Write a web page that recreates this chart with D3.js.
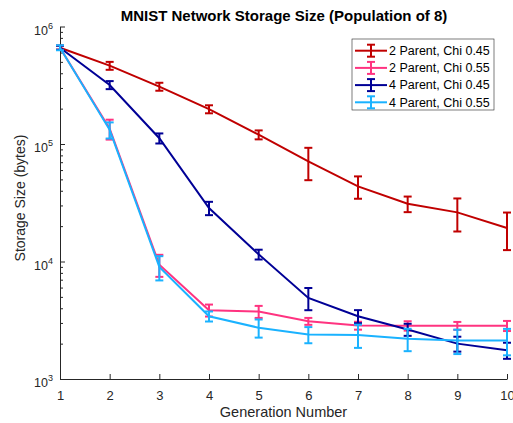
<!DOCTYPE html>
<html>
<head>
<meta charset="utf-8">
<script src="https://cdn.jsdelivr.net/npm/d3@7"></script>
<style>
  body { margin: 0; background: #fff; }
  svg { display: block; font-family: "Liberation Sans", Arial, sans-serif; }
</style>
</head>
<body>
<div id="chartdiv"></div>
<script>
// data (storage size in bytes, error = half width)
const generations = [1, 2, 3, 4, 5, 6, 7, 8, 9, 10];
const seriesNames = ["2 Parent, Chi 0.45", "2 Parent, Chi 0.55", "4 Parent, Chi 0.45", "4 Parent, Chi 0.55"];

const p2chi45 = [6.6e5, 4.64e5, 3.08e5, 1.98e5, 1.2e5, 7.1e4, 4.36e4, 3.1e4, 2.62e4, 1.93e4];
const p2chi45Err = [2.6e4, 3.6e4, 2.4e4, 1.55e4, 1.05e4, 2.18e4, 9.4e3, 4.7e3, 8.2e3, 6.8e3];
const p2chi55 = [6.6e5, 1.35e5, 9.4e3, 3.85e3, 3.75e3, 3.1e3, 2.85e3, 2.84e3, 2.84e3, 2.84e3];
const p2chi55Err = [2.6e4, 2.6e4, 2.0e3, 450, 440, 210, 220, 260, 220, 280];
const p4chi45 = [6.6e5, 3.18e5, 1.12e5, 2.85e4, 1.15e4, 4.9e3, 3.42e3, 2.64e3, 2.0e3, 1.76e3];
const p4chi45Err = [2.6e4, 2.5e4, 1.1e4, 3.7e3, 1.1e3, 1.05e3, 435, 310, 290, 275];
const p4chi55 = [6.6e5, 1.32e5, 9.0e3, 3.42e3, 2.73e3, 2.39e3, 2.37e3, 2.2e3, 2.13e3, 2.13e3];
const p4chi55Err = [3.2e4, 2.07e4, 2.1e3, 335, 480, 375, 530, 475, 500, 540];

const yMajorTicks = [1e3, 1e4, 1e5, 1e6];

const colors = ["#c00000", "#ff3380", "#000096", "#1ab2ff"];

const series = [
  { name: seriesNames[0], vals: p2chi45, errs: p2chi45Err },
  { name: seriesNames[1], vals: p2chi55, errs: p2chi55Err },
  { name: seriesNames[2], vals: p4chi45, errs: p4chi45Err },
  { name: seriesNames[3], vals: p4chi55, errs: p4chi55Err }
];

const W = 513, H = 423;
const axisColor = "#262626";

const svg = d3.select("#chartdiv").append("svg")
  .attr("width", W)
  .attr("height", H);

const x = d3.scaleLinear().domain([1, 10]).range([60, 507]);
const y = d3.scaleLog().domain([1e3, 1e6]).range([379, 26.5]);

// minor ticks on the log axis
const minorTicks = [];
for (let d = 1e3; d < 1e6; d *= 10) {
  for (let m = 2; m <= 9; m++) minorTicks.push(d * m);
}

svg.append("g")
  .attr("transform", "translate(" + x.range()[0] + ",0)")
  .call(d3.axisLeft(y).tickValues(minorTicks).tickSize(-3).tickSizeOuter(0).tickFormat(""))
  .call(g => g.select(".domain").remove())
  .selectAll("line").attr("stroke", axisColor);

// y axis
const yAxis = svg.append("g")
  .attr("class", "yaxis")
  .attr("transform", "translate(" + x.range()[0] + ",0)")
  .call(d3.axisLeft(y).tickValues(yMajorTicks).tickSize(-5).tickSizeOuter(0).tickPadding(7).tickFormat(""));
yAxis.select(".domain").attr("stroke", axisColor);
yAxis.selectAll("line").attr("stroke", axisColor);
yAxis.selectAll("text")
  .attr("dy", "7.5")
  .attr("fill", axisColor)
  .attr("font-size", "12.5px")
  .each(function (d) {
    const t = d3.select(this);
    t.append("tspan").text("10");
    t.append("tspan")
      .attr("dy", "-6")
      .attr("font-size", "9px")
      .text(Math.round(Math.log10(d)));
  });

// x axis
const xAxis = svg.append("g")
  .attr("class", "xaxis")
  .attr("transform", "translate(0," + y.range()[0] + ")")
  .call(d3.axisBottom(x).tickValues(generations).tickSize(-5).tickSizeOuter(0).tickPadding(11.5).tickFormat(d3.format("d")));
xAxis.select(".domain").attr("stroke", axisColor);
xAxis.selectAll("line").attr("stroke", axisColor);
xAxis.selectAll("text")
  .attr("fill", axisColor)
  .attr("font-size", "13px");

// lines + error bars
const line = d3.line()
  .x((d, i) => x(generations[i]))
  .y(d => y(d));

const capW = 4;

series.forEach((s, si) => {
  const g = svg.append("g").attr("stroke", colors[si]).attr("stroke-width", 2).attr("fill", "none");

  g.append("path").attr("d", line(s.vals));

  s.vals.forEach((v, i) => {
    const cx = x(generations[i]);
    const y0 = y(v - s.errs[i]);
    const y1 = y(v + s.errs[i]);
    g.append("line").attr("x1", cx).attr("x2", cx).attr("y1", y0).attr("y2", y1);
    g.append("line").attr("x1", cx - capW).attr("x2", cx + capW).attr("y1", y0).attr("y2", y0);
    g.append("line").attr("x1", cx - capW).attr("x2", cx + capW).attr("y1", y1).attr("y2", y1);
  });
});

// title and labels
svg.append("text")
  .attr("x", 284)
  .attr("y", 20.5)
  .attr("text-anchor", "middle")
  .attr("font-weight", "bold")
  .attr("font-size", "15px")
  .attr("fill", "#000")
  .text("MNIST Network Storage Size (Population of 8)");

svg.append("text")
  .attr("x", 283.5)
  .attr("y", 416.5)
  .attr("text-anchor", "middle")
  .attr("font-size", "14.5px")
  .attr("fill", axisColor)
  .text("Generation Number");

svg.append("text")
  .attr("transform", "translate(25,198) rotate(-90)")
  .attr("text-anchor", "middle")
  .attr("font-size", "14px")
  .attr("fill", axisColor)
  .text("Storage Size (bytes)");

// legend
const lg = svg.append("g").attr("class", "legend");
lg.append("rect")
  .attr("x", 352).attr("y", 39)
  .attr("width", 142).attr("height", 71)
  .attr("fill", "#fff")
  .attr("stroke", "#262626")
  .attr("stroke-width", 0.6);

seriesNames.forEach((name, i) => {
  const cy = 50.7 + i * 17.2;
  const g = lg.append("g").attr("stroke", colors[i]).attr("stroke-width", 2);
  g.append("line").attr("x1", 355).attr("x2", 387).attr("y1", cy).attr("y2", cy);
  g.append("line").attr("x1", 371).attr("x2", 371).attr("y1", cy - 6).attr("y2", cy + 6);
  g.append("line").attr("x1", 367).attr("x2", 375).attr("y1", cy - 6).attr("y2", cy - 6);
  g.append("line").attr("x1", 367).attr("x2", 375).attr("y1", cy + 6).attr("y2", cy + 6);
  lg.append("text")
    .attr("x", 389)
    .attr("y", cy)
    .attr("dy", "0.35em")
    .attr("font-size", "12.5px")
    .attr("fill", "#000")
    .text(name);
});
</script>
</body>
</html>
